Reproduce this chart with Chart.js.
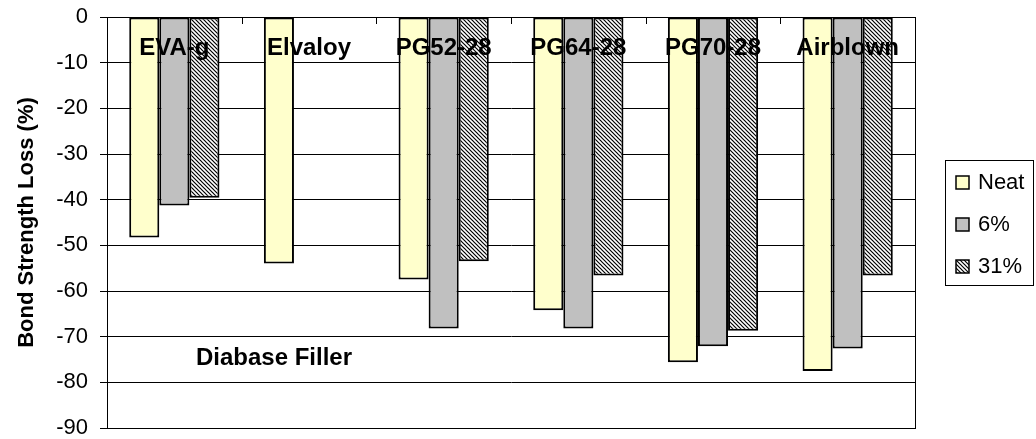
<!DOCTYPE html>
<html>
<head>
<meta charset="utf-8">
<script src="https://cdn.jsdelivr.net/npm/chart.js@4"></script>
<style>
  html, body { margin: 0; padding: 0; background: #fff; }
  #wrap { width: 1036px; height: 439px; }
</style>
</head>
<body>
<div id="wrap"><canvas id="myChart" width="1036" height="439"></canvas></div>
<script>
const categories = ['EVA-g', 'Elvaloy', 'PG52-28', 'PG64-28', 'PG70-28', 'Airblown'];
const seriesNames = ['Neat', '6%', '31%'];
const neatValues = [-48.3, -54.0, -57.5, -64.2, -75.6, -77.5];
const sixValues = [-41.3, null, -68.2, -68.2, -72.1, -72.6];
const thirtyOneValues = [-39.6, null, -53.5, -56.6, -68.7, -56.6];
const yMin = -90, yMax = 0, yStep = 10;
const noteText = 'Diabase Filler';

const FONT = "'Liberation Sans', Arial, sans-serif";

function makeHatch() {
    const c = document.createElement('canvas');
    c.width = 4; c.height = 4;
    const g = c.getContext('2d');
    g.fillStyle = '#fff';
    g.fillRect(0, 0, 4, 4);
    g.strokeStyle = '#000';
    g.lineWidth = 1.2;
    for (let k = -1; k <= 1; k++) {
        g.beginPath();
        g.moveTo(k * 4 - 1, -1);
        g.lineTo(k * 4 + 5, 5);
        g.stroke();
    }
    return g.createPattern(c, 'repeat');
}

const ctx = document.getElementById('myChart').getContext('2d');
const hatch = makeHatch();
const fills = ['#FFFFCC', '#C0C0C0', hatch];

// frame, top ticks, category labels, note and legend box
const decorPlugin = {
    id: 'decor',
    afterDraw(chart) {
        const c = chart.ctx;
        const a = chart.chartArea;
        const x = chart.scales.x;
        const y = chart.scales.y;
        c.save();
        c.strokeStyle = '#000';
        c.lineWidth = 1;
        c.strokeRect(Math.round(a.left) + 0.5, Math.round(a.top) + 0.5,
            Math.round(a.right - a.left), Math.round(a.bottom - a.top));
        // small ticks between categories along the zero line
        const step = (a.right - a.left) / categories.length;
        for (let i = 1; i < categories.length; i++) {
            const px = Math.round(a.left + step * i) + 0.5;
            c.beginPath();
            c.moveTo(px, a.top);
            c.lineTo(px, a.top + 7);
            c.stroke();
        }
        c.fillStyle = '#000';
        c.font = 'bold 24px ' + FONT;
        c.textAlign = 'center';
        c.textBaseline = 'middle';
        categories.forEach((lab, i) => {
            c.fillText(lab, x.getPixelForValue(i), a.top + 31);
        });
        c.fillText(noteText, a.left + 167, y.getPixelForValue(-74.8));

        // legend
        const bx = 945.5, by = 160.5, bw = 88, bh = 125;
        c.fillStyle = '#fff';
        c.fillRect(bx, by, bw, bh);
        c.strokeRect(bx, by, bw, bh);
        c.font = '22px ' + FONT;
        c.textAlign = 'left';
        chart.data.datasets.forEach((ds, i) => {
            const cy = 182 + i * 42;
            c.fillStyle = ds.backgroundColor;
            c.fillRect(956, cy - 6, 13, 13);
            c.lineWidth = 1.5;
            c.strokeRect(956, cy - 6, 13, 13);
            c.fillStyle = '#000';
            c.fillText(ds.label, 978, cy + 1);
        });
        c.restore();
    }
};

const chart = new Chart(ctx, {
    type: 'bar',
    data: {
        labels: categories,
        datasets: [
            { label: seriesNames[0], data: neatValues, backgroundColor: fills[0] },
            { label: seriesNames[1], data: sixValues, backgroundColor: fills[1] },
            { label: seriesNames[2], data: thirtyOneValues, backgroundColor: fills[2] }
        ].map(d => Object.assign(d, {
            borderColor: '#000',
            borderWidth: 2,
            borderSkipped: false,
            categoryPercentage: 0.67,
            barPercentage: 1.0
        }))
    },
    options: {
        responsive: false,
        animation: false,
        layout: { padding: { left: 0, top: 17, right: 121, bottom: 11 } },
        plugins: {
            legend: { display: false },
            tooltip: { enabled: false }
        },
        scales: {
            x: { display: false },
            y: {
                min: yMin,
                max: yMax,
                afterFit(scale) {
                    scale.width = 107;
                    scale.paddingTop = 0;
                    scale.paddingBottom = 0;
                },
                ticks: {
                    stepSize: yStep,
                    color: '#000',
                    padding: 12,
                    font: { family: FONT, size: 22 }
                },
                grid: { color: '#000', lineWidth: 1, tickLength: 7 },
                border: { display: true, color: '#000', width: 1 },
                title: {
                    display: true,
                    text: 'Bond Strength Loss (%)',
                    color: '#000',
                    font: { family: FONT, size: 22, weight: 'bold' },
                    padding: { top: 14, bottom: 0 }
                }
            }
        }
    },
    plugins: [decorPlugin]
});
</script>
</body>
</html>
